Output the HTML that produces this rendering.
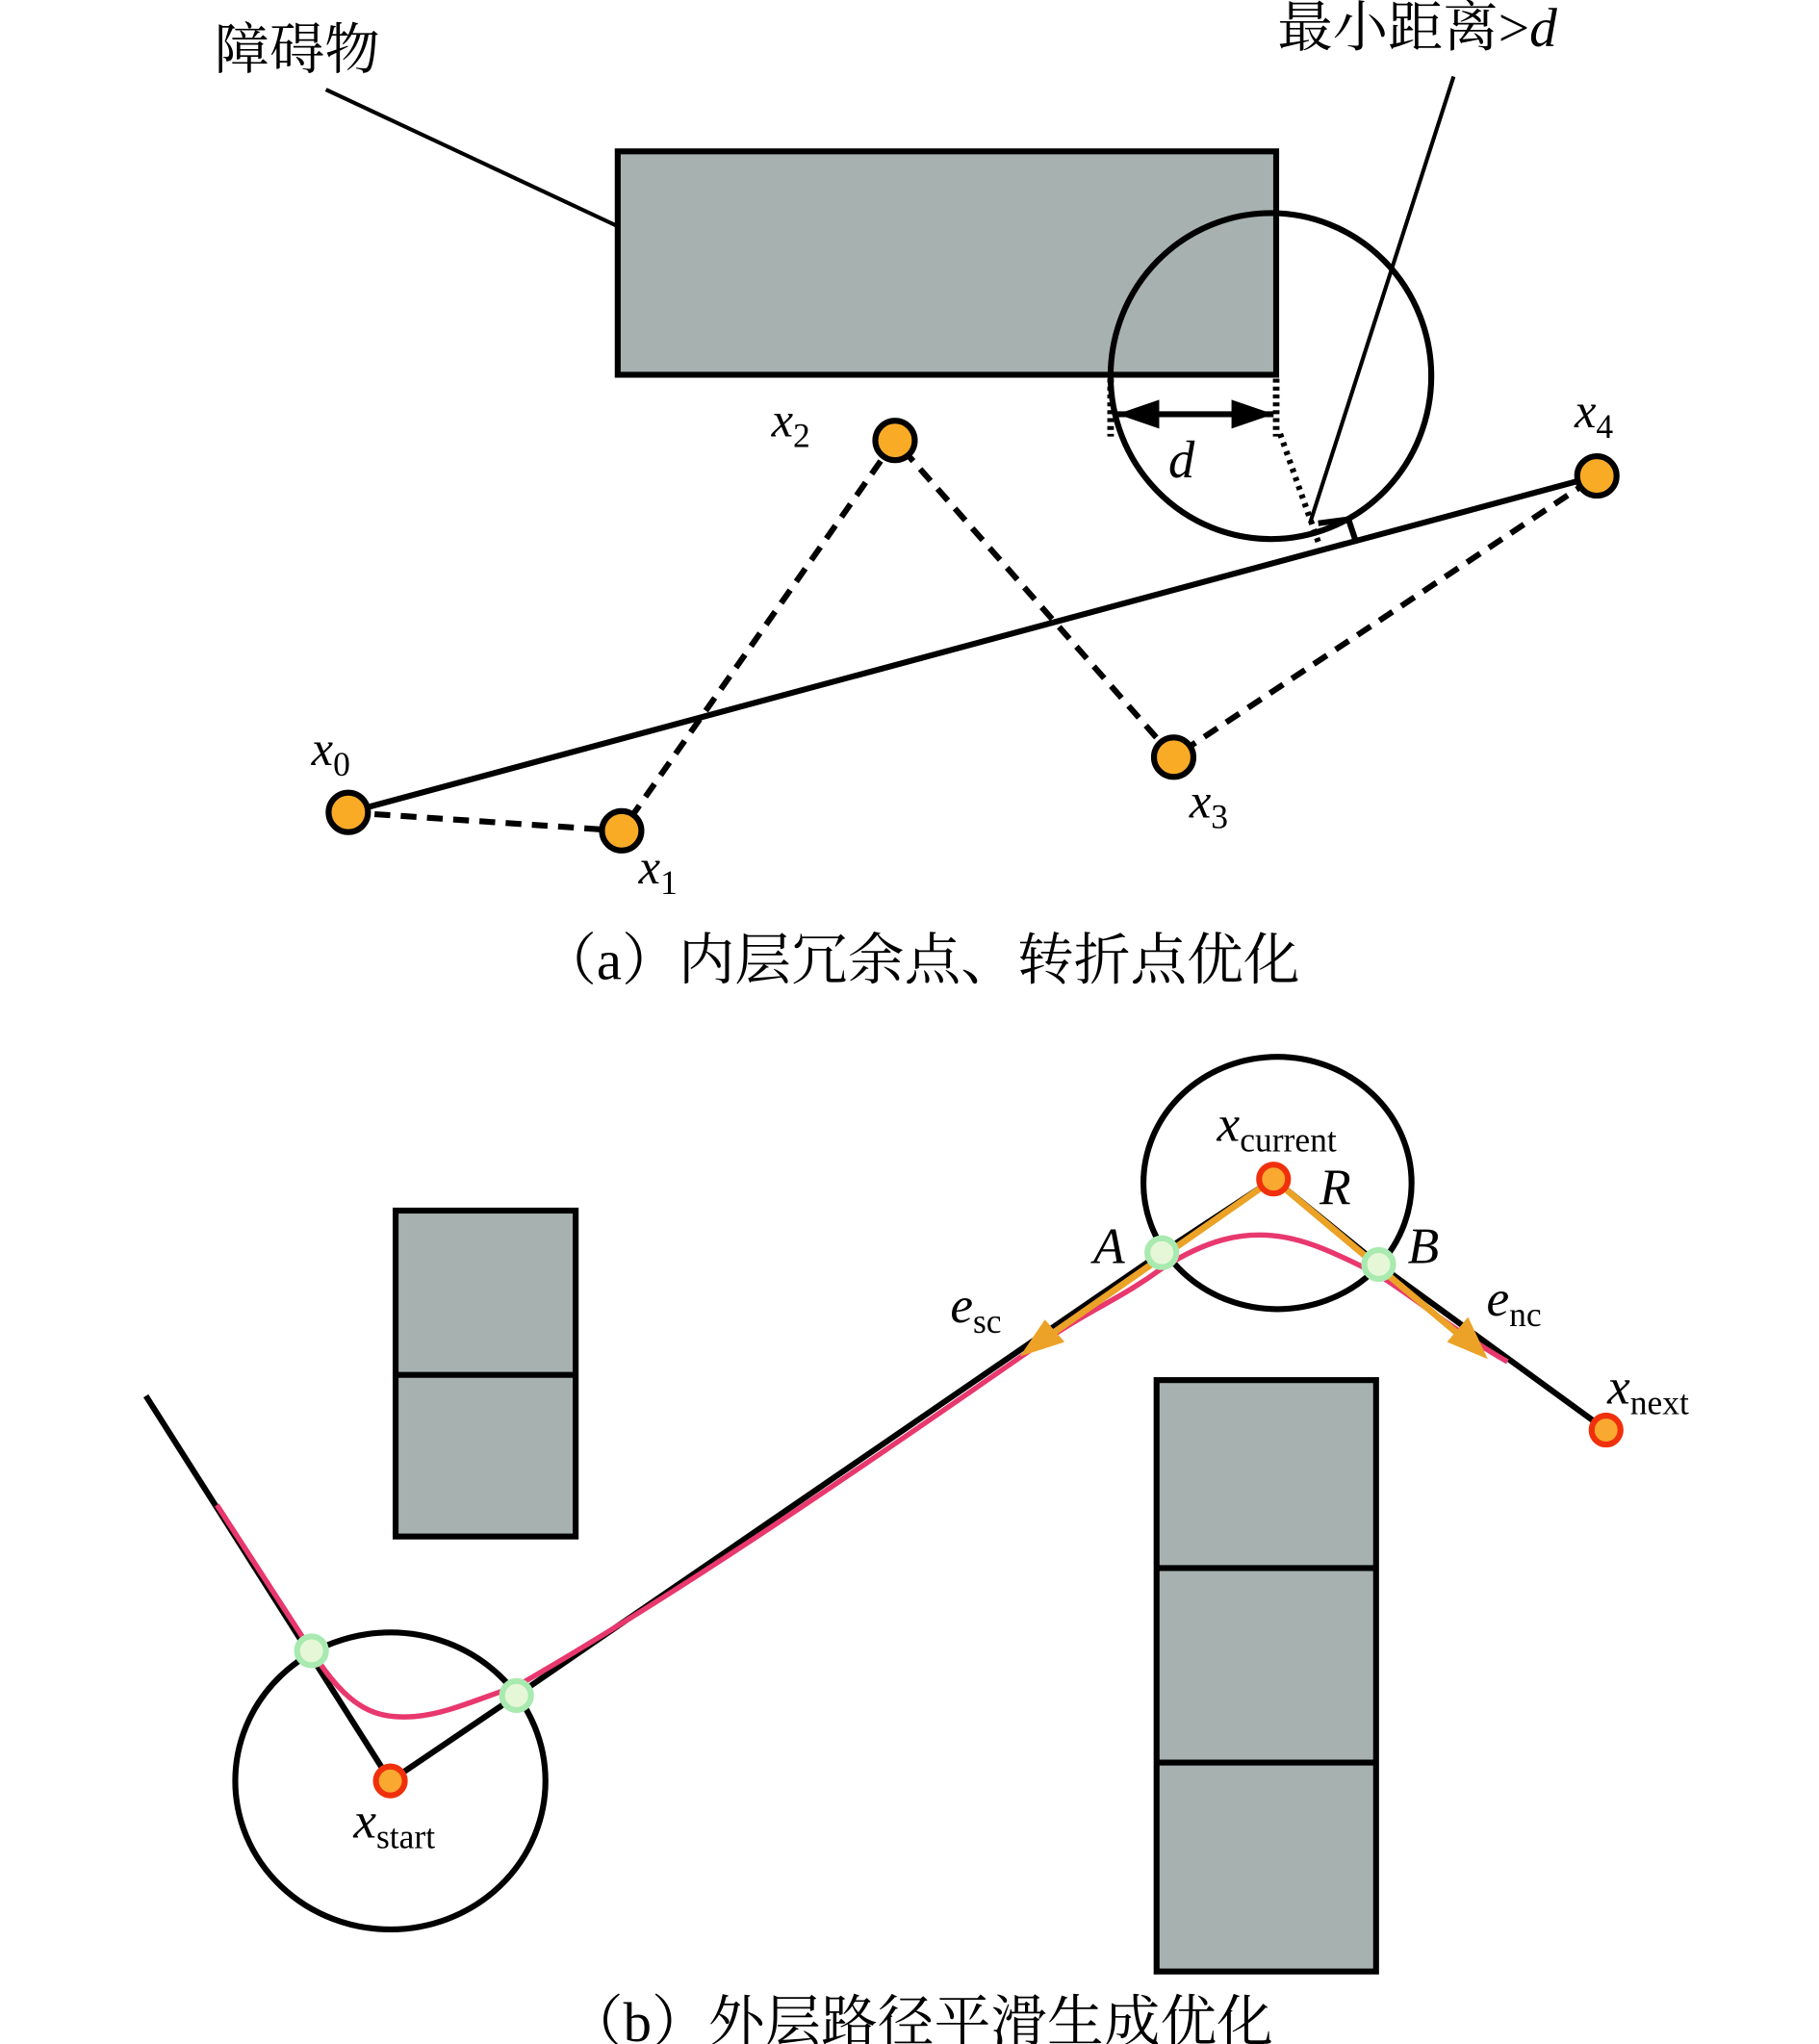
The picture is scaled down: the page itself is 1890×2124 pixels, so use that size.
<!DOCTYPE html>
<html><head><meta charset="utf-8"><style>html,body{margin:0;padding:0;background:#fff}svg{display:block}</style></head>
<body>
<svg width="1890" height="2124" viewBox="0 0 1384 1555" xmlns="http://www.w3.org/2000/svg" font-family="'Liberation Serif','Noto Serif CJK SC',serif">
<!-- (a) -->
<text x="163" y="52" font-size="42">障碍物</text>
<line x1="248" y1="68" x2="470" y2="172" stroke="#000" stroke-width="3"/>
<rect x="470" y="115" width="501" height="170" fill="#a7b2b0" stroke="#000" stroke-width="4.5"/>
<ellipse cx="967" cy="286" rx="122" ry="124" fill="none" stroke="#000" stroke-width="4.5"/>
<text x="972" y="35" font-size="42">最小距离&gt;<tspan font-style="italic">d</tspan></text>
<line x1="1106" y1="58" x2="997" y2="397" stroke="#000" stroke-width="3"/>
<line x1="845" y1="288" x2="845" y2="332" stroke="#000" stroke-width="5" stroke-dasharray="3,3"/>
<line x1="971" y1="288" x2="971" y2="332" stroke="#000" stroke-width="5" stroke-dasharray="3,3"/>
<line x1="974" y1="330" x2="1004" y2="415" stroke="#000" stroke-width="4.5" stroke-dasharray="3,4"/>
<line x1="850" y1="315" x2="969" y2="315" stroke="#000" stroke-width="4.5"/>
<path d="M850,315 L882,304 L882,326 z M969,315 L937,304 L937,326 z" fill="#000"/>
<text x="889" y="363" font-size="40" font-style="italic">d</text>
<polyline points="1003,398 1026,395 1031,410" fill="none" stroke="#000" stroke-width="4.5"/>
<line x1="265" y1="618" x2="1215" y2="362" stroke="#000" stroke-width="4.5"/>
<polyline points="265,618 473,632 681,335 893,576 1215,362" fill="none" stroke="#000" stroke-width="4.5" stroke-dasharray="12,8"/>
<g fill="#f9ab26" stroke="#000" stroke-width="4.5">
<circle cx="265" cy="618" r="15"/><circle cx="473" cy="632" r="15"/><circle cx="681" cy="335" r="15"/><circle cx="893" cy="576" r="15"/><circle cx="1215" cy="362" r="15"/>
</g>
<g font-size="37" font-style="italic">
<text x="237" y="582">x<tspan font-size="26" font-style="normal" dy="8">0</tspan></text>
<text x="486" y="672">x<tspan font-size="26" font-style="normal" dy="8">1</tspan></text>
<text x="587" y="332">x<tspan font-size="26" font-style="normal" dy="8">2</tspan></text>
<text x="905" y="622">x<tspan font-size="26" font-style="normal" dy="8">3</tspan></text>
<text x="1198" y="325">x<tspan font-size="26" font-style="normal" dy="8">4</tspan></text>
</g>
<text x="700" y="745" font-size="43" text-anchor="middle">（a）内层冗余点、转折点优化</text>
<!-- (b) -->
<ellipse cx="972" cy="900" rx="102" ry="96" fill="none" stroke="#000" stroke-width="4.5"/>
<rect x="301" y="921" width="137" height="248" fill="#a7b2b0" stroke="#000" stroke-width="4.5"/>
<line x1="301" y1="1046" x2="438" y2="1046" stroke="#000" stroke-width="4.5"/>
<rect x="880" y="1050" width="167" height="450" fill="#a7b2b0" stroke="#000" stroke-width="4.5"/>
<line x1="880" y1="1193" x2="1047" y2="1193" stroke="#000" stroke-width="4.5"/>
<line x1="880" y1="1341" x2="1047" y2="1341" stroke="#000" stroke-width="4.5"/>
<ellipse cx="297" cy="1355" rx="118" ry="113" fill="none" stroke="#000" stroke-width="4.5"/>
<polyline points="111,1062 297,1355 393,1290 884,953 969,897 1049,962 1222,1088" fill="none" stroke="#000" stroke-width="4.5"/>
<path d="M165,1145 L237,1256 C265,1300 285,1308 315,1306 C340,1304 365,1292 393,1283 C520,1210 650,1120 780,1030 C830,995 850,990 884,965 C920,942 945,938 968,940 C990,942 1010,950 1049,970 C1080,990 1110,1015 1147,1036" fill="none" stroke="#e8386e" stroke-width="4"/>
<line x1="969" y1="897" x2="790" y2="1022" stroke="#eba227" stroke-width="5"/>
<path d="M776,1032 L795,1004 L810,1021 z" fill="#eba227"/>
<line x1="969" y1="897" x2="1118" y2="1022" stroke="#eba227" stroke-width="5"/>
<path d="M1132,1034 L1101,1021 L1117,1002 z" fill="#eba227"/>
<g fill="#e6f7d8" stroke="#a8eab0" stroke-width="4.5">
<circle cx="237" cy="1256" r="11"/><circle cx="393" cy="1290" r="11"/><circle cx="884" cy="953" r="11"/><circle cx="1049" cy="962" r="11"/>
</g>
<g fill="#f9a830" stroke="#f0300c" stroke-width="4.5">
<circle cx="297" cy="1355" r="11"/><circle cx="969" cy="897" r="11"/><circle cx="1222" cy="1088" r="11"/>
</g>
<g font-size="39" font-style="italic">
<text x="926" y="868">x<tspan font-size="26" font-style="normal" dy="8">current</tspan></text>
<text x="1004" y="916">R</text>
<text x="832" y="961">A</text>
<text x="1071" y="961">B</text>
<text x="723" y="1006">e<tspan font-size="26" font-style="normal" dy="8">sc</tspan></text>
<text x="1131" y="1001">e<tspan font-size="26" font-style="normal" dy="8">nc</tspan></text>
<text x="1223" y="1068">x<tspan font-size="26" font-style="normal" dy="8">next</tspan></text>
<text x="269" y="1398">x<tspan font-size="26" font-style="normal" dy="8">start</tspan></text>
</g>
<text x="700" y="1553" font-size="43" text-anchor="middle">（b）外层路径平滑生成优化</text>
</svg>
</body></html>
